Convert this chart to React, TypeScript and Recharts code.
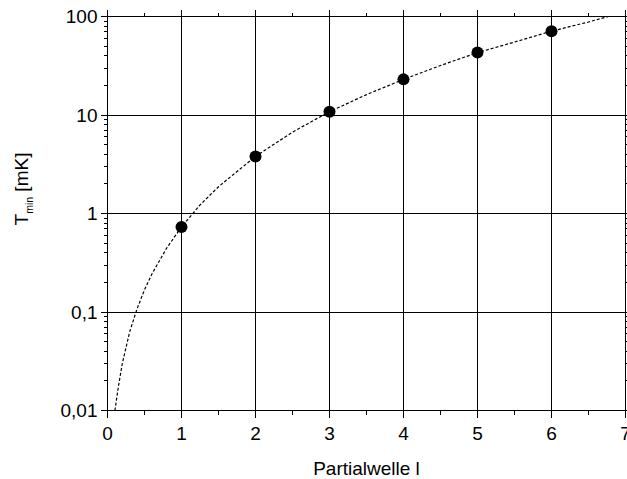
import React from "react";
import {
  ComposedChart,
  Line,
  Scatter,
  XAxis,
  YAxis,
  ReferenceLine,
  Label,
} from "recharts";

// measured minimum temperatures per partial wave
const waves = [1, 2, 3, 4, 5, 6];
const tMin = [0.73, 3.8, 10.8, 23, 43, 71];

// dotted fit curve, read along its path
const curveL = [0.1, 0.15, 0.2, 0.3, 0.4, 0.5, 0.6, 0.8, 1, 1.25, 1.5, 2, 2.5, 3, 3.5, 4, 4.5, 5, 5.5, 6, 6.5, 6.77];
const curveT = [0.01, 0.018, 0.03, 0.063, 0.108, 0.168, 0.243, 0.446, 0.73, 1.22, 1.87, 3.8, 6.7, 10.8, 16.1, 23, 31.8, 43, 55, 71, 88, 100];

const xMajor = [0, 1, 2, 3, 4, 5, 6, 7];
const xMinor = [0.5, 1.5, 2.5, 3.5, 4.5, 5.5, 6.5];
const yMajor = [0.01, 0.1, 1, 10, 100];
const yLabels = ["0,01", "0,1", "1", "10", "100"];
const yMinorSteps = [2, 3, 4, 5, 6, 7, 8, 9];

const points = waves.map((l, i) => ({ l, t: tMin[i] }));
const curve = curveL.map((l, i) => ({ l, t: curveT[i] }));

const yMinor: number[] = [];
yMajor.slice(0, -1).forEach((d) => yMinorSteps.forEach((m) => yMinor.push(d * m)));

const xTicks = [...xMajor, ...xMinor].sort((a, b) => a - b);
const yTicks = [...yMajor, ...yMinor].sort((a, b) => a - b);

const FONT = "'Liberation Sans', Arial, sans-serif";
const FS = 19;

// plot box edges (chart margins + axis sizes)
const PLOT_TOP = 16.5;
const PLOT_RIGHT = 625.5;

const isMajorX = (v: number) => xMajor.includes(v);

// bottom tick also mirrors a small tick on the top frame edge
const BottomTick = (props: any) => {
  const { x, y, payload } = props;
  const major = isMajorX(payload.value);
  const len = major ? 7 : 4;
  return (
    <g shapeRendering="crispEdges">
      <line x1={x} x2={x} y1={y} y2={y + len} stroke="#000" />
      <line x1={x} x2={x} y1={PLOT_TOP} y2={PLOT_TOP - len} stroke="#000" />
      {major && (
        <text x={x} y={y + 29} textAnchor="middle" fontSize={FS} fontFamily={FONT} fill="#000">
          {payload.value}
        </text>
      )}
    </g>
  );
};

// left tick also mirrors a small tick on the right frame edge
const LeftTick = (props: any) => {
  const { x, y, payload } = props;
  const idx = yMajor.indexOf(payload.value);
  const major = idx >= 0;
  const len = major ? 7 : 4;
  return (
    <g>
      <line x1={x - len} x2={x} y1={y} y2={y} stroke="#000" shapeRendering="crispEdges" />
      <line x1={PLOT_RIGHT} x2={PLOT_RIGHT + len} y1={y} y2={y} stroke="#000" shapeRendering="crispEdges" />
      {major && (
        <text x={x - 10} y={y} dy="0.36em" textAnchor="end" fontSize={FS} fontFamily={FONT} fill="#000">
          {yLabels[idx]}
        </text>
      )}
    </g>
  );
};

const YTitle = (props: any) => {
  const { viewBox } = props;
  const x = viewBox.x + 28;
  const y = 189;
  return (
    <text
      x={x}
      y={y}
      transform={`rotate(-90 ${x} ${y})`}
      textAnchor="middle"
      fontSize={FS}
      fontFamily={FONT}
      fill="#000"
    >
      T
      <tspan fontSize={10.5} dy={5}>
        min
      </tspan>
      <tspan dy={-5}> [mK]</tspan>
    </text>
  );
};

const XTitle = (props: any) => {
  const { viewBox } = props;
  return (
    <text
      x={viewBox.x + viewBox.width / 2}
      y={475}
      textAnchor="middle"
      fontSize={FS}
      fontFamily={FONT}
      fill="#000"
    >
      Partialwelle l
    </text>
  );
};

const Dot = (props: any) => <circle cx={props.cx} cy={props.cy} r={6} fill="#000" />;

export default function App() {
  return (
    <div style={{ position: "absolute", left: 0, top: 0, width: 627, height: 479, background: "#fff" }}>
      <ComposedChart width={627} height={479} margin={{ top: PLOT_TOP, right: 627 - PLOT_RIGHT, bottom: 0, left: 0 }}>
        <XAxis
          xAxisId="b"
          orientation="bottom"
          type="number"
          dataKey="l"
          domain={[0, 7]}
          ticks={xTicks}
          interval={0}
          height={68.5}
          tickSize={0}
          tickMargin={0}
          tickLine={false}
          tick={BottomTick}
          axisLine={false}
        >
          <Label content={XTitle} />
        </XAxis>
        <YAxis
          yAxisId="l"
          orientation="left"
          type="number"
          scale="log"
          dataKey="t"
          domain={[0.01, 100]}
          allowDataOverflow
          ticks={yTicks}
          interval={0}
          width={107.5}
          tickSize={0}
          tickMargin={0}
          tickLine={false}
          tick={LeftTick}
          axisLine={false}
        >
          <Label content={YTitle} />
        </YAxis>
        {/* grid and frame */}
        {xMajor.map((v) => (
          <ReferenceLine
            key={`x${v}`}
            x={v}
            xAxisId="b"
            yAxisId="l"
            stroke="#000"
            strokeWidth={1}
            shapeRendering="crispEdges"
          />
        ))}
        {yMajor.map((v) => (
          <ReferenceLine
            key={`y${v}`}
            y={v}
            xAxisId="b"
            yAxisId="l"
            stroke="#000"
            strokeWidth={1}
            shapeRendering="crispEdges"
          />
        ))}
        <Line
          data={curve}
          dataKey="t"
          xAxisId="b"
          yAxisId="l"
          type="linear"
          stroke="#000"
          strokeWidth={1.2}
          strokeDasharray="3 2"
          dot={false}
          activeDot={false}
          isAnimationActive={false}
        />
        <Scatter data={points} dataKey="t" xAxisId="b" yAxisId="l" shape={Dot} isAnimationActive={false} />
      </ComposedChart>
    </div>
  );
}
